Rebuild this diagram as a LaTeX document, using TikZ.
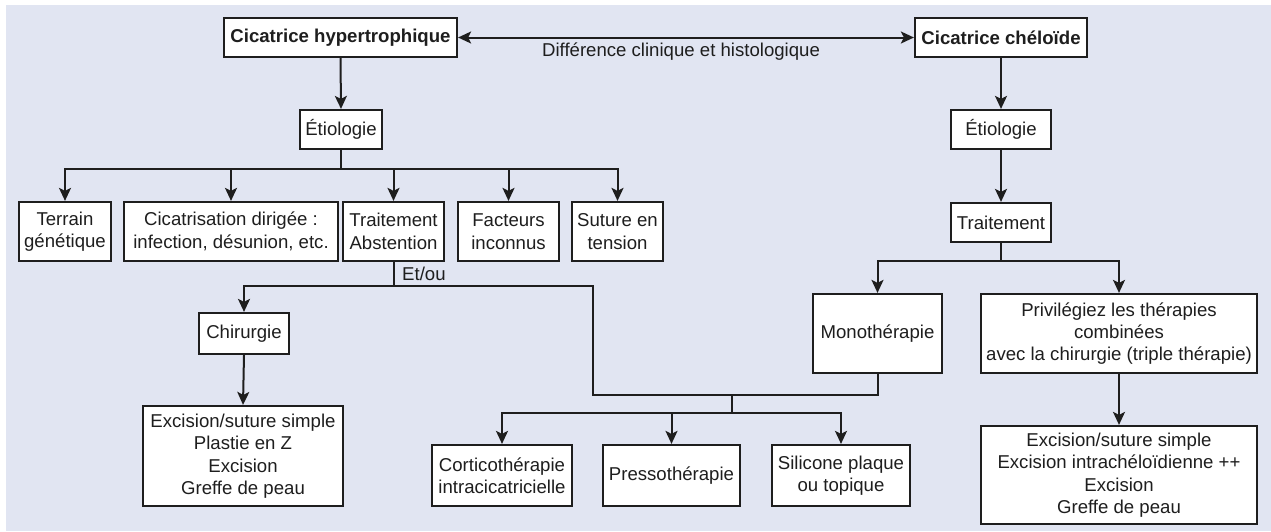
\documentclass[tikz,border=0pt]{standalone}
\usepackage{fontspec}
\setmainfont{Liberation Sans}
\usetikzlibrary{arrows.meta}
\definecolor{bg}{RGB}{225,229,242}
\definecolor{ink}{RGB}{30,30,30}
\begin{document}
\begin{tikzpicture}[x=1pt,y=-1pt,
  txt/.style={text=ink, font=\fontsize{18.6}{22.4}\selectfont},
  box/.style={txt, draw=ink, fill=white, line width=2.2pt, inner sep=0pt, align=center},
  sz/.style 2 args={minimum width=#1pt, minimum height=#2pt},
  conn/.style={draw=ink, line width=2pt},
  tip/.style={},
  arr/.style={conn, -{Stealth[length=13pt,width=12pt,inset=3pt]}},
  darr/.style={conn, {Stealth[length=13pt,width=12pt,inset=3pt]}-{Stealth[length=13pt,width=12pt,inset=3pt]}},
]
\useasboundingbox (0,0) rectangle (1271,531);
\fill[white] (0,0) rectangle (1271,531);
\fill[bg] (6,5) rectangle (1271,531);

% top row
\node[box, sz={233}{39}] (hyp) at (340.5,37.5) {\bfseries Cicatrice hypertrophique};
\node[box, sz={172}{39}] (chel) at (1001,37.5) {\bfseries Cicatrice chéloïde};
\node[txt] (diff) at (681,52) {Différence clinique et histologique};

\node[box, sz={82}{39}] (etioL) at (341,129.5) {Étiologie};
\node[box, sz={100}{39}] (etioR) at (1001,129.5) {Étiologie};

% left causes row
\node[box, sz={92}{59}] (terrain) at (65,231.5) {Terrain\\génétique};
\node[box, sz={214}{59}] (cicat) at (231,231.5) {Cicatrisation dirigée :\\infection, désunion, etc.};
\node[box, sz={101}{59}] (traitA) at (393.5,231.5) {Traitement\\Abstention};
\node[box, sz={101}{59}] (fact) at (508.5,231.5) {Facteurs\\inconnus};
\node[box, sz={91}{59}] (suture) at (617.5,231.5) {Suture en\\tension};

\node[txt, anchor=west, inner sep=0pt] (etou) at (402,274) {Et/ou};

% right treatment
\node[box, sz={100}{39}] (traitR) at (1001,222.5) {Traitement};
\node[box, sz={129}{79}] (mono) at (877.5,333.5) {Monothérapie};
\node[box, sz={276}{79}] (priv) at (1119,333.5) {Privilégiez les thérapies\\combinées\\avec la chirurgie (triple thérapie)};

% lower left
\node[box, sz={90}{41}] (chir) at (244,333.5) {Chirurgie};
\node[box, sz={200}{100}] (excL) at (243,456) {Excision/suture simple\\Plastie en Z\\Excision\\Greffe de peau};

\node[box, sz={140}{61}] (cortico) at (502,475.5) {Corticothérapie\\intracicatricielle};
\node[box, sz={137}{61}] (presso) at (671.5,475.5) {Pressothérapie};
\node[box, sz={138}{61}] (silic) at (841,475.5) {Silicone plaque\\ou topique};

\node[box, sz={276}{98}] (excR) at (1119,475) {Excision/suture simple\\Excision intrachéloïdienne ++\\Excision\\Greffe de peau};

% junction coordinates
\coordinate (busL) at (341,169);
\coordinate (jEt) at (393.5,286);
\coordinate (jTurn) at (593,286);
\coordinate (jLow) at (593,395);
\coordinate (jMono) at (877.5,395);
\coordinate (jMid) at (732,395);
\coordinate (busB) at (732,413);
\coordinate (busR) at (1001,261);

% connectors
\draw[darr] (hyp.east) -- (chel.west);
\draw[arr] (hyp.south) -- (etioL.north);
\draw[arr] (chel.south) -- (etioR.north);
\draw[conn] (etioL.south) -- (busL);
\draw[arr] (busL) -| (terrain.north);
\draw[arr] (busL) -| (cicat.north);
\draw[arr] (busL) -| (traitA.north);
\draw[arr] (busL) -| (fact.north);
\draw[arr] (busL) -| (suture.north);

\draw[conn] (traitA.south) -- (jEt);
\draw[arr] (jEt) -| (chir.north);
\draw[conn] (jEt) -- (jTurn) -- (jLow) -- (jMono) -- (mono.south);
\draw[conn] (jMid) -- (busB);
\draw[arr] (busB) -| (cortico.north);
\draw[arr] (busB) -| (presso.north);
\draw[arr] (busB) -| (silic.north);
\draw[arr] (chir.south) -- (excL.north);

\draw[arr] (etioR.south) -- (traitR.north);
\draw[conn] (traitR.south) -- (busR);
\draw[arr] (busR) -| (mono.north);
\draw[arr] (busR) -| (priv.north);
\draw[arr] (priv.south) -- (excR.north);
\end{tikzpicture}
\end{document}
